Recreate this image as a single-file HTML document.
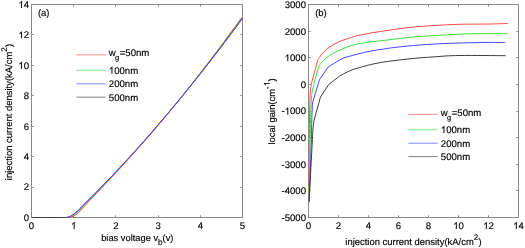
<!DOCTYPE html>
<html><head><meta charset="utf-8"><style>
html,body{margin:0;padding:0;background:#fff;width:525px;height:248px;overflow:hidden}
svg{display:block;filter:blur(0.6px)}
text{font-family:"Liberation Sans",sans-serif;font-size:9.45px;fill:#000;stroke:#000;stroke-width:0.15px;text-rendering:geometricPrecision}
.one{fill:#000;stroke:#000;stroke-width:0.15px;vector-effect:non-scaling-stroke}
</style></head><body>
<svg width="525" height="248" viewBox="0 0 525 248"><rect width="525" height="248" fill="#fff"/><rect x="31.5" y="4.5" width="211.0" height="213.0" fill="none" stroke="#8a8a8a" stroke-width="1"/><rect x="308.5" y="4.5" width="210.0" height="213.0" fill="none" stroke="#8a8a8a" stroke-width="1"/><path d="M31.50,217.5v-2.2M31.50,4.5v2.2M73.50,217.5v-2.2M73.50,4.5v2.2M115.50,217.5v-2.2M115.50,4.5v2.2M158.50,217.5v-2.2M158.50,4.5v2.2M200.50,217.5v-2.2M200.50,4.5v2.2M242.50,217.5v-2.2M242.50,4.5v2.2M31.5,217.50h2.2M242.5,217.50h-2.2M31.5,187.50h2.2M242.5,187.50h-2.2M31.5,156.50h2.2M242.5,156.50h-2.2M31.5,126.50h2.2M242.5,126.50h-2.2M31.5,95.50h2.2M242.5,95.50h-2.2M31.5,65.50h2.2M242.5,65.50h-2.2M31.5,34.50h2.2M242.5,34.50h-2.2M31.5,4.50h2.2M242.5,4.50h-2.2" stroke="#8a8a8a" stroke-width="1" fill="none"/><path d="M308.50,217.5v-2.2M308.50,4.5v2.2M338.50,217.5v-2.2M338.50,4.5v2.2M368.50,217.5v-2.2M368.50,4.5v2.2M398.50,217.5v-2.2M398.50,4.5v2.2M428.50,217.5v-2.2M428.50,4.5v2.2M458.50,217.5v-2.2M458.50,4.5v2.2M488.50,217.5v-2.2M488.50,4.5v2.2M518.50,217.5v-2.2M518.50,4.5v2.2M308.5,217.50h2.2M518.5,217.50h-2.2M308.5,190.50h2.2M518.5,190.50h-2.2M308.5,164.50h2.2M518.5,164.50h-2.2M308.5,137.50h2.2M518.5,137.50h-2.2M308.5,111.50h2.2M518.5,111.50h-2.2M308.5,84.50h2.2M518.5,84.50h-2.2M308.5,57.50h2.2M518.5,57.50h-2.2M308.5,31.50h2.2M518.5,31.50h-2.2M308.5,4.50h2.2M518.5,4.50h-2.2" stroke="#8a8a8a" stroke-width="1" fill="none"/><defs><clipPath id="cl"><rect x="31.0" y="4.0" width="212.0" height="214.0"/></clipPath><clipPath id="cr"><rect x="308.0" y="4.0" width="211.0" height="214.0"/></clipPath></defs><g clip-path="url(#cl)"><path d="M31.90,217.50 C36.65,217.50 54.26,217.55 60.40,217.50 C63.33,217.48 64.97,217.74 66.90,217.40 C68.52,217.12 69.74,216.71 71.27,215.90 C73.28,214.84 75.61,212.92 77.69,211.10 C79.93,209.13 81.92,206.73 84.21,204.42 C86.71,201.88 89.50,199.15 92.14,196.49 C94.80,193.82 97.30,191.28 100.09,188.41 C103.24,185.18 106.74,181.55 110.06,178.08 C113.39,174.58 116.72,171.05 120.03,167.50 C123.37,163.91 126.70,160.30 130.02,156.66 C133.36,153.00 136.69,149.30 140.01,145.58 C143.35,141.83 146.68,138.05 150.01,134.24 C153.35,130.41 156.68,126.54 160.00,122.65 C163.36,118.74 166.71,114.79 170.05,110.82 C173.41,106.82 176.76,102.79 180.10,98.73 C183.47,94.64 186.82,90.53 190.16,86.39 C193.53,82.22 196.88,78.02 200.22,73.80 C203.59,69.54 206.94,65.26 210.29,60.95 C213.65,56.62 217.01,52.25 220.35,47.86 C223.72,43.44 226.89,39.24 230.42,34.51 C234.39,29.19 240.90,20.32 243.00,17.48" fill="none" stroke="#3c3c3c" stroke-width="1.0" stroke-linejoin="round"/><path d="M68.09,217.40 C68.81,217.15 70.89,216.71 72.38,215.90 C74.35,214.84 76.58,212.92 78.59,211.10 C80.76,209.13 82.66,206.73 84.88,204.42 C87.32,201.88 90.04,199.15 92.62,196.49 C95.23,193.81 97.70,191.27 100.45,188.41 C103.55,185.18 107.03,181.55 110.31,178.08 C113.62,174.58 116.92,171.05 120.22,167.50 C123.55,163.91 126.86,160.30 130.17,156.66 C133.50,153.00 136.83,149.30 140.14,145.58 C143.48,141.83 146.81,138.05 150.12,134.24 C153.46,130.41 156.80,126.55 160.11,122.65 C163.44,118.74 166.73,114.79 170.02,110.82 C173.32,106.82 176.61,102.79 179.90,98.73 C183.20,94.64 186.49,90.53 189.78,86.39 C193.08,82.22 196.37,78.02 199.65,73.80 C202.95,69.54 206.25,65.26 209.53,60.95 C212.83,56.62 216.12,52.25 219.40,47.86 C222.70,43.44 225.81,39.24 229.27,34.51 C233.17,29.19 239.55,20.32 241.60,17.48" fill="none" stroke="#3ce03c" stroke-width="1.0" stroke-linejoin="round"/><path d="M69.99,217.40 C70.68,217.15 72.73,216.71 74.17,215.90 C76.06,214.84 78.17,212.92 80.08,211.10 C82.15,209.13 83.94,206.72 86.06,204.42 C88.40,201.87 91.04,199.15 93.55,196.49 C96.09,193.81 98.50,191.27 101.20,188.41 C104.25,185.18 107.68,181.55 110.92,178.08 C114.19,174.58 117.47,171.05 120.75,167.50 C124.05,163.91 127.35,160.30 130.64,156.66 C133.96,153.00 137.28,149.30 140.58,145.58 C143.91,141.83 147.23,138.05 150.55,134.24 C153.88,130.41 157.22,126.55 160.53,122.65 C163.85,118.74 167.14,114.79 170.43,110.82 C173.74,106.82 177.04,102.79 180.32,98.73 C183.63,94.64 186.92,90.53 190.21,86.39 C193.52,82.22 196.81,78.02 200.10,73.80 C203.40,69.54 206.70,65.26 209.99,60.95 C213.29,56.62 216.59,52.25 219.87,47.86 C223.17,43.44 226.29,39.24 229.75,34.51 C233.65,29.19 240.05,20.32 242.10,17.48" fill="none" stroke="#ff4a4a" stroke-width="1.0" stroke-linejoin="round"/><path d="M66.70,217.40 C67.43,217.15 69.55,216.71 71.08,215.90 C73.11,214.84 75.45,212.92 77.55,211.10 C79.80,209.13 81.80,206.73 84.10,204.42 C86.62,201.88 89.42,199.15 92.07,196.49 C94.73,193.82 97.25,191.28 100.05,188.41 C103.20,185.18 106.71,181.55 110.03,178.08 C113.37,174.58 116.70,171.05 120.02,167.50 C123.36,163.91 126.69,160.30 130.01,156.66 C133.35,153.00 136.68,149.30 140.01,145.58 C143.35,141.83 146.68,138.05 150.00,134.24 C153.35,130.41 156.67,126.54 160.00,122.65 C163.36,118.74 166.71,114.79 170.05,110.82 C173.42,106.82 176.78,102.79 180.12,98.73 C183.49,94.64 186.85,90.53 190.20,86.39 C193.56,82.22 196.92,78.02 200.27,73.80 C203.64,69.54 207.00,65.26 210.34,60.95 C213.71,56.62 217.07,52.25 220.42,47.86 C223.79,43.44 226.96,39.24 230.50,34.51 C234.48,29.19 241.00,20.32 243.10,17.48" fill="none" stroke="#4444ff" stroke-width="1.0" stroke-linejoin="round"/></g><g clip-path="url(#cr)"><path d="M309.10,201.50 C309.17,187.92 309.24,138.58 309.50,120.00 C309.63,110.35 309.72,103.81 310.00,98.00 C310.18,94.18 310.34,91.42 310.70,88.50 C311.01,85.98 311.70,82.67 311.90,81.50 L318.00,59.40 C318.55,58.67 319.96,56.57 321.30,55.00 C323.03,52.97 325.20,50.39 327.70,48.40 C330.46,46.21 334.02,44.22 337.30,42.60 C340.46,41.04 343.74,39.92 347.00,38.80 C350.21,37.69 353.33,36.76 356.70,35.90 C360.31,34.98 363.84,34.27 368.00,33.50 C373.08,32.56 378.78,31.72 385.00,30.80 C392.53,29.69 401.65,28.30 410.00,27.40 C418.32,26.50 426.66,25.92 435.00,25.40 C443.33,24.88 451.29,24.54 460.00,24.30 C469.54,24.04 481.27,24.16 490.00,24.00 C496.76,23.87 505.00,23.58 508.00,23.50" fill="none" stroke="#ff4a4a" stroke-width="1.0" stroke-linejoin="round"/><path d="M309.10,201.50 C309.28,191.20 309.92,154.64 310.20,139.70 C310.36,131.20 310.42,126.34 310.60,119.70 C310.78,113.11 310.93,105.20 311.30,100.00 C311.54,96.57 311.79,94.19 312.20,91.50 C312.57,89.04 313.37,85.67 313.60,84.50 L319.00,65.70 C319.58,65.00 321.05,62.96 322.50,61.50 C324.39,59.60 327.10,57.23 329.60,55.50 C332.04,53.81 334.55,52.56 337.30,51.20 C340.31,49.71 343.73,48.19 347.00,47.00 C350.20,45.83 353.32,44.89 356.70,44.10 C360.30,43.26 363.84,42.78 368.00,42.20 C373.08,41.49 378.79,41.02 385.00,40.30 C392.53,39.43 401.66,38.10 410.00,37.30 C418.32,36.50 426.66,36.03 435.00,35.50 C443.33,34.97 451.28,34.42 460.00,34.10 C469.54,33.75 481.27,33.62 490.00,33.60 C496.76,33.58 505.00,33.77 508.00,33.80" fill="none" stroke="#3ce03c" stroke-width="1.0" stroke-linejoin="round"/><path d="M309.10,201.50 C309.48,191.20 310.97,154.64 311.40,139.70 C311.64,131.20 311.60,126.09 311.80,119.70 C311.98,113.83 312.38,105.62 312.50,102.80 L319.50,79.60 L328.10,67.10 C330.05,65.90 336.64,61.59 339.80,59.90 C341.84,58.81 343.22,58.15 345.00,57.50 C346.76,56.86 348.47,56.52 350.40,56.00 C352.63,55.40 354.87,54.78 357.60,54.10 C361.19,53.21 365.83,52.04 370.10,51.20 C374.52,50.33 379.37,49.66 383.70,49.00 C387.64,48.40 390.48,47.94 395.00,47.40 C401.71,46.60 411.74,45.65 420.10,45.00 C428.41,44.35 437.74,43.84 445.00,43.50 C450.63,43.24 454.14,43.16 460.00,43.00 C468.28,42.78 481.64,42.48 490.00,42.40 C496.01,42.34 502.92,42.40 505.50,42.40" fill="none" stroke="#4444ff" stroke-width="1.0" stroke-linejoin="round"/><path d="M309.10,201.50 C309.65,191.20 311.79,151.39 312.40,139.70 C312.64,135.07 312.64,133.19 312.90,130.00 C313.15,126.89 313.73,122.33 313.90,120.80 L320.40,97.20 L329.00,84.20 C329.98,83.45 333.04,81.13 334.90,79.70 C336.58,78.41 337.87,77.17 339.70,76.00 C341.83,74.64 344.67,73.33 347.00,72.20 C349.08,71.19 351.01,70.23 353.00,69.50 C354.87,68.81 356.53,68.50 358.60,67.90 C361.16,67.16 363.94,66.22 367.20,65.40 C371.41,64.34 377.04,63.13 381.80,62.30 C386.30,61.52 390.46,61.07 395.00,60.50 C399.84,59.90 405.49,59.28 410.00,58.80 C413.70,58.41 416.40,58.11 420.10,57.80 C424.58,57.43 430.53,57.13 435.00,56.80 C438.67,56.53 441.33,56.21 445.00,56.00 C449.49,55.75 453.64,55.59 460.00,55.50 C471.08,55.34 498.00,55.67 505.60,55.70" fill="none" stroke="#3c3c3c" stroke-width="1.0" stroke-linejoin="round"/></g><text x="29.00" y="220.90" text-anchor="end" style="font-size:9.6px">0</text><text x="29.00" y="190.47" text-anchor="end" style="font-size:9.6px">2</text><text x="29.00" y="160.04" text-anchor="end" style="font-size:9.6px">4</text><text x="29.00" y="129.61" text-anchor="end" style="font-size:9.6px">6</text><text x="29.00" y="99.19" text-anchor="end" style="font-size:9.6px">8</text><text x="29.00" y="68.76" text-anchor="end" style="font-size:9.6px">&#x2007;0</text><text x="29.00" y="38.33" text-anchor="end" style="font-size:9.6px">&#x2007;2</text><text x="29.00" y="7.90" text-anchor="end" style="font-size:9.6px">&#x2007;4</text><text x="31.50" y="229.00" text-anchor="middle" style="font-size:9.6px">0</text><text x="73.70" y="229.00" text-anchor="middle" style="font-size:9.6px">&#x2007;</text><text x="115.90" y="229.00" text-anchor="middle" style="font-size:9.6px">2</text><text x="158.10" y="229.00" text-anchor="middle" style="font-size:9.6px">3</text><text x="200.30" y="229.00" text-anchor="middle" style="font-size:9.6px">4</text><text x="242.50" y="229.00" text-anchor="middle" style="font-size:9.6px">5</text><text x="306.00" y="220.90" text-anchor="end" style="font-size:9.6px">-5000</text><text x="306.00" y="194.28" text-anchor="end" style="font-size:9.6px">-4000</text><text x="306.00" y="167.65" text-anchor="end" style="font-size:9.6px">-3000</text><text x="306.00" y="141.03" text-anchor="end" style="font-size:9.6px">-2000</text><text x="306.00" y="114.40" text-anchor="end" style="font-size:9.6px">-&#x2007;000</text><text x="306.00" y="87.78" text-anchor="end" style="font-size:9.6px">0</text><text x="306.00" y="61.15" text-anchor="end" style="font-size:9.6px">&#x2007;000</text><text x="306.00" y="34.52" text-anchor="end" style="font-size:9.6px">2000</text><text x="306.00" y="7.90" text-anchor="end" style="font-size:9.6px">3000</text><text x="308.50" y="229.00" text-anchor="middle" style="font-size:9.6px">0</text><text x="338.50" y="229.00" text-anchor="middle" style="font-size:9.6px">2</text><text x="368.50" y="229.00" text-anchor="middle" style="font-size:9.6px">4</text><text x="398.50" y="229.00" text-anchor="middle" style="font-size:9.6px">6</text><text x="428.50" y="229.00" text-anchor="middle" style="font-size:9.6px">8</text><text x="458.50" y="229.00" text-anchor="middle" style="font-size:9.6px">&#x2007;0</text><text x="488.50" y="229.00" text-anchor="middle" style="font-size:9.6px">&#x2007;2</text><text x="518.50" y="229.00" text-anchor="middle" style="font-size:9.6px">&#x2007;4</text><text x="101.20" y="241.30" text-anchor="start" style="font-size:9.3px">bias voltage v<tspan dy="4.1" font-size="8.2">b</tspan><tspan dy="-4.1">(v)</tspan></text><text x="345.30" y="244.60" text-anchor="start" >injection current density(kA/cm<tspan dy="-5.0" font-size="8.2">2</tspan><tspan dy="5.0">)</tspan></text><text transform="translate(12.3,180.2) rotate(-90)">injection current density(kA/cm<tspan dy="-5.0" font-size="8.2">2</tspan><tspan dy="5.0">)</tspan></text><text transform="translate(274.8,144.5) rotate(-90)">local gain(cm<tspan dy="-5.0" font-size="8.2">-&#x2007;</tspan><tspan dy="5.0">)</tspan></text><text x="37.90" y="16.20" text-anchor="start" >(a)</text><text x="315.20" y="16.30" text-anchor="start" >(b)</text><path d="M76.40,54.90H105.70" stroke="#ff4a4a" stroke-width="1.0" opacity="0.65"/><text x="108.80" y="56.20" text-anchor="start" style="font-size:9.6px">w<tspan dx="-0.7" dy="4.0" font-size="7.5">g</tspan><tspan dx="0.5" dy="-4.0">=50nm</tspan></text><path d="M76.40,70.30H105.70" stroke="#3ce03c" stroke-width="1.0" opacity="0.65"/><text x="108.80" y="73.60" text-anchor="start" style="font-size:9.6px">&#x2007;00nm</text><path d="M76.40,83.80H105.70" stroke="#4444ff" stroke-width="1.0" opacity="0.65"/><text x="108.80" y="87.10" text-anchor="start" style="font-size:9.6px">200nm</text><path d="M76.40,97.20H105.70" stroke="#3c3c3c" stroke-width="1.0" opacity="0.65"/><text x="108.80" y="100.50" text-anchor="start" style="font-size:9.6px">500nm</text><path d="M408.40,114.30H437.70" stroke="#ff4a4a" stroke-width="1.0" opacity="0.65"/><text x="440.80" y="115.60" text-anchor="start" style="font-size:9.6px">w<tspan dx="-0.7" dy="4.0" font-size="7.5">g</tspan><tspan dx="0.5" dy="-4.0">=50nm</tspan></text><path d="M408.40,129.70H437.70" stroke="#3ce03c" stroke-width="1.0" opacity="0.65"/><text x="440.80" y="133.00" text-anchor="start" style="font-size:9.6px">&#x2007;00nm</text><path d="M408.40,143.20H437.70" stroke="#4444ff" stroke-width="1.0" opacity="0.65"/><text x="440.80" y="146.50" text-anchor="start" style="font-size:9.6px">200nm</text><path d="M408.40,156.60H437.70" stroke="#3c3c3c" stroke-width="1.0" opacity="0.65"/><text x="440.80" y="159.90" text-anchor="start" style="font-size:9.6px">500nm</text><path d="M763 0L583 0L583 1147C540 1106 483 1064 413 1023C343 982 280 951 223 931L223 1105C324 1152 412 1210 487 1277C562 1344 615 1409 646 1472L763 1472Z" transform=" translate(18.328,68.760) scale(0.004687,-0.004687)" class="one"/><path d="M763 0L583 0L583 1147C540 1106 483 1064 413 1023C343 982 280 951 223 931L223 1105C324 1152 412 1210 487 1277C562 1344 615 1409 646 1472L763 1472Z" transform=" translate(18.328,38.330) scale(0.004687,-0.004687)" class="one"/><path d="M763 0L583 0L583 1147C540 1106 483 1064 413 1023C343 982 280 951 223 931L223 1105C324 1152 412 1210 487 1277C562 1344 615 1409 646 1472L763 1472Z" transform=" translate(18.328,7.900) scale(0.004687,-0.004687)" class="one"/><path d="M763 0L583 0L583 1147C540 1106 483 1064 413 1023C343 982 280 951 223 931L223 1105C324 1152 412 1210 487 1277C562 1344 615 1409 646 1472L763 1472Z" transform=" translate(71.028,229.000) scale(0.004687,-0.004687)" class="one"/><path d="M763 0L583 0L583 1147C540 1106 483 1064 413 1023C343 982 280 951 223 931L223 1105C324 1152 412 1210 487 1277C562 1344 615 1409 646 1472L763 1472Z" transform=" translate(284.641,114.400) scale(0.004687,-0.004687)" class="one"/><path d="M763 0L583 0L583 1147C540 1106 483 1064 413 1023C343 982 280 951 223 931L223 1105C324 1152 412 1210 487 1277C562 1344 615 1409 646 1472L763 1472Z" transform=" translate(284.656,61.150) scale(0.004687,-0.004687)" class="one"/><path d="M763 0L583 0L583 1147C540 1106 483 1064 413 1023C343 982 280 951 223 931L223 1105C324 1152 412 1210 487 1277C562 1344 615 1409 646 1472L763 1472Z" transform=" translate(453.164,229.000) scale(0.004687,-0.004687)" class="one"/><path d="M763 0L583 0L583 1147C540 1106 483 1064 413 1023C343 982 280 951 223 931L223 1105C324 1152 412 1210 487 1277C562 1344 615 1409 646 1472L763 1472Z" transform=" translate(483.164,229.000) scale(0.004687,-0.004687)" class="one"/><path d="M763 0L583 0L583 1147C540 1106 483 1064 413 1023C343 982 280 951 223 931L223 1105C324 1152 412 1210 487 1277C562 1344 615 1409 646 1472L763 1472Z" transform=" translate(513.164,229.000) scale(0.004687,-0.004687)" class="one"/><path d="M763 0L583 0L583 1147C540 1106 483 1064 413 1023C343 982 280 951 223 931L223 1105C324 1152 412 1210 487 1277C562 1344 615 1409 646 1472L763 1472Z" transform="translate(274.8,144.5) rotate(-90) translate(58.328,-5.000) scale(0.004004,-0.004004)" class="one"/><path d="M763 0L583 0L583 1147C540 1106 483 1064 413 1023C343 982 280 951 223 931L223 1105C324 1152 412 1210 487 1277C562 1344 615 1409 646 1472L763 1472Z" transform=" translate(108.800,73.600) scale(0.004687,-0.004687)" class="one"/><path d="M763 0L583 0L583 1147C540 1106 483 1064 413 1023C343 982 280 951 223 931L223 1105C324 1152 412 1210 487 1277C562 1344 615 1409 646 1472L763 1472Z" transform=" translate(440.800,133.000) scale(0.004687,-0.004687)" class="one"/></svg>
</body></html>
